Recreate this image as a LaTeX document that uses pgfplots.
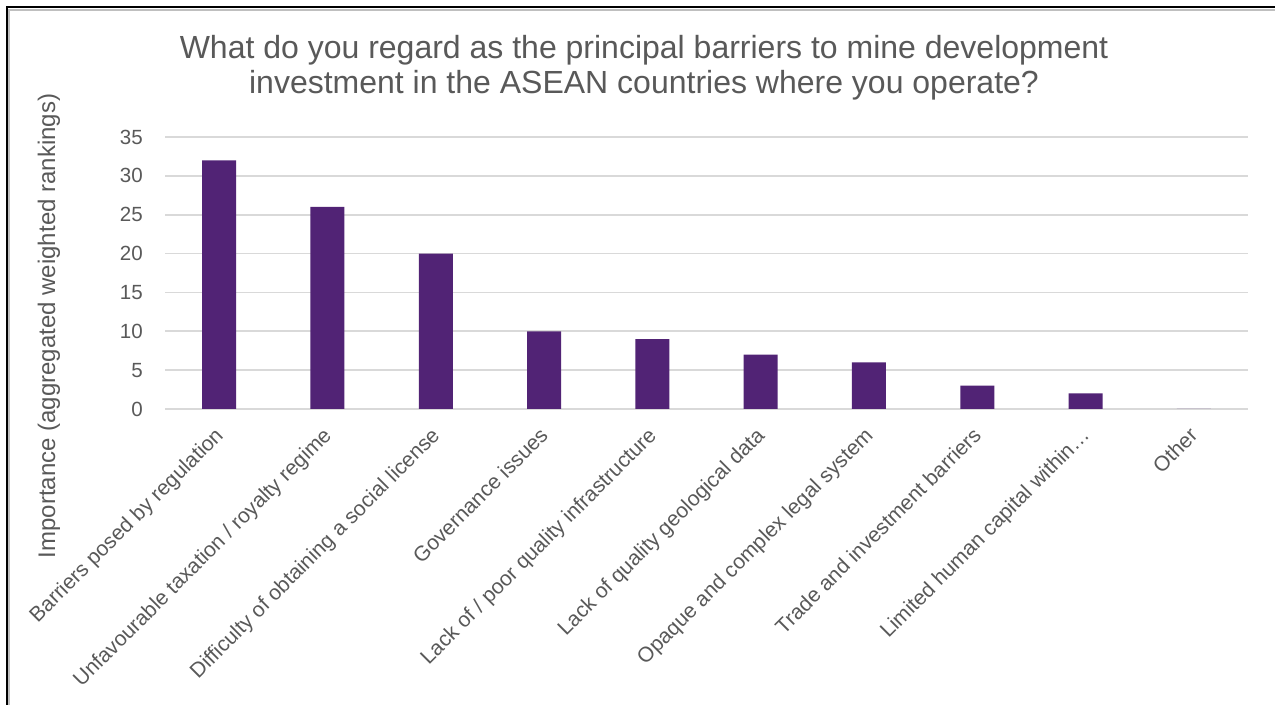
\documentclass[border=0pt]{standalone}
\usepackage{pgfplots}
\pgfplotsset{compat=1.18}
\usepackage{fontspec}
\setmainfont{Liberation Sans}
\definecolor{barpurple}{RGB}{81,35,117}
\definecolor{txtgray}{RGB}{89,89,89}
\definecolor{gridgray}{RGB}{217,217,217}
\begin{document}
\begin{tikzpicture}[x=0.75pt,y=0.75pt]
\useasboundingbox (0,0) rectangle (1275,705);
\fill[white] (0,0) rectangle (1275,705);
\draw[black!25, line width=1.5pt] (9,0) -- (9,695) -- (1275,695);
\draw[black, line width=1.5pt] (6.5,0) -- (6.5,697.5) -- (1275,697.5);
\begin{axis}[
  at={(165pt*0.75,296pt*0.75)}, anchor=south west,
  scale only axis,
  width=812.25pt, height=204pt,
  xmin=-0.5, xmax=9.5, ymin=0, ymax=35,
  ytick={0,5,...,35},
  xtick={0,...,9},
  xticklabels={Barriers posed by regulation,Unfavourable taxation / royalty regime,Difficulty of obtaining a social license,Governance issues,Lack of / poor quality infrastructure,Lack of quality geological data,Opaque and complex legal system,Trade and investment barriers,Limited human capital within\ldots,Other},
  ymajorgrids, grid style={gridgray, line width=1.2pt},
  axis line style={draw=none},
  major tick length=0pt,
  yticklabel style={font=\fontsize{15.4pt}{18pt}\selectfont, text=txtgray},
  xticklabel style={font=\fontsize{15.8pt}{18pt}\selectfont, text=txtgray},
  /pgf/number format/assume math mode=true,
  yticklabel style={inner sep=0pt, xshift=-16.5pt},
  xticklabel style={rotate=45, anchor=north east, inner sep=0pt, yshift=-5.8pt, xshift=-11.9pt},
  ybar, bar width=25.5pt,
  clip=false,
]
\addplot[fill=barpurple, draw=none] coordinates {(0,32) (1,26) (2,20) (3,10) (4,9) (5,7) (6,6) (7,3) (8,2) (9,0)};
\end{axis}
\node[rotate=90, text=txtgray, font=\fontsize{18pt}{21pt}\selectfont] at (49,379) {Importance (aggregated weighted rankings)};
\node[text=txtgray, font=\fontsize{24pt}{26.25pt}\selectfont, align=center] at (644,637) {What do you regard as the principal barriers to mine development\\investment in the ASEAN countries where you operate?};
\end{tikzpicture}
\end{document}
